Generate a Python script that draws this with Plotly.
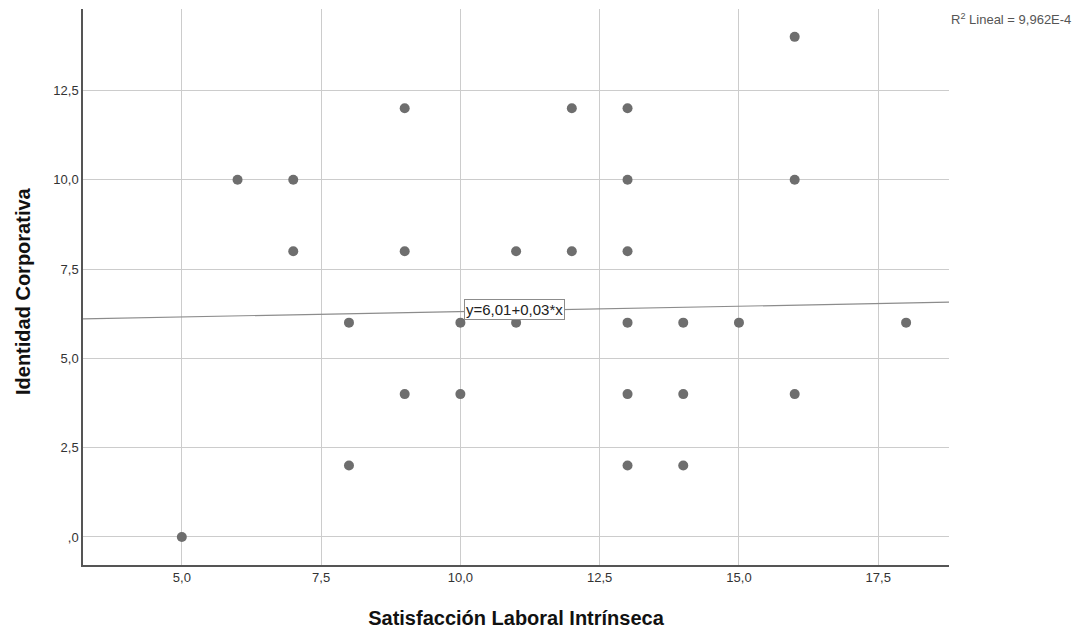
import plotly.graph_objects as go

# Data
satisfaccion = [5, 6, 7, 7, 8, 8, 9, 9, 9, 10, 10, 11, 11, 12, 12,
                13, 13, 13, 13, 13, 13, 14, 14, 14, 15, 16, 16, 16, 18]
identidad = [0, 10, 10, 8, 6, 2, 12, 8, 4, 6, 4, 8, 6, 12, 8,
             12, 10, 8, 6, 4, 2, 6, 4, 2, 6, 14, 10, 4, 6]

fit_intercept = 6.01
fit_slope = 0.03
fit_label = "y=6,01+0,03*x"
r2_label = "R<sup>2</sup> Lineal = 9,962E-4"

x_range = [3.226, 18.77]
y_range = [-0.784, 14.78]
x_ticks = [5.0, 7.5, 10.0, 12.5, 15.0, 17.5]
x_tick_text = ["5,0", "7,5", "10,0", "12,5", "15,0", "17,5"]
y_ticks = [0.0, 2.5, 5.0, 7.5, 10.0, 12.5]
y_tick_text = [",0", "2,5", "5,0", "7,5", "10,0", "12,5"]

FONT = "Arial, Liberation Sans, sans-serif"

fig = go.Figure()

fit_x = x_range
fit_y = [fit_intercept + fit_slope * v for v in fit_x]
fig.add_trace(go.Scatter(
    x=fit_x, y=fit_y, mode="lines",
    line=dict(color="#8c8c8c", width=1.2),
    hoverinfo="skip", showlegend=False,
))

fig.add_trace(go.Scatter(
    x=satisfaccion, y=identidad, mode="markers",
    marker=dict(size=10, color="#6e6e6e", line=dict(width=0)),
    showlegend=False,
))

fig.add_annotation(
    x=10.97, y=6.36, xref="x", yref="y",
    text=fit_label, showarrow=False,
    font=dict(family=FONT, size=15, color="#222222"),
    bgcolor="white", bordercolor="#8c8c8c", borderwidth=1, borderpad=1,
)

fig.add_annotation(
    x=1.0, y=1.0, xref="paper", yref="paper",
    xanchor="left", yanchor="middle", xshift=0, yshift=-10,
    text=r2_label, showarrow=False,
    font=dict(family=FONT, size=13, color="#555555"),
)

# y-axis title as a rotated annotation for exact placement
fig.add_annotation(
    x=0.0, y=0.5, xref="paper", yref="paper",
    xanchor="center", yanchor="middle", xshift=-60, yshift=-4,
    textangle=-90, showarrow=False,
    text="<b>Identidad Corporativa</b>",
    font=dict(family=FONT, size=20, color="#111111"),
)

fig.update_xaxes(
    range=x_range, tickvals=x_ticks, ticktext=x_tick_text,
    showgrid=True, gridcolor="#cccccc", gridwidth=1,
    showline=True, linecolor="#555555", linewidth=1.5,
    zeroline=False, ticks="", ticklen=0, automargin=False,
    tickfont=dict(family=FONT, size=13, color="#333333"),
    title=dict(text="<b>Satisfacción Laboral Intrínseca</b>",
               font=dict(family=FONT, size=20, color="#111111"),
               standoff=27),
)
fig.update_yaxes(
    range=y_range, tickvals=y_ticks, ticktext=y_tick_text,
    showgrid=True, gridcolor="#cccccc", gridwidth=1,
    showline=True, linecolor="#555555", linewidth=1.5,
    zeroline=False, ticks="", ticklen=0, automargin=False,
    tickfont=dict(family=FONT, size=13, color="#333333"),
)

fig.update_layout(
    width=1077, height=622,
    margin=dict(l=75, r=136, t=1, b=65),
    plot_bgcolor="white", paper_bgcolor="white",
)

fig.write_html("out.html")
